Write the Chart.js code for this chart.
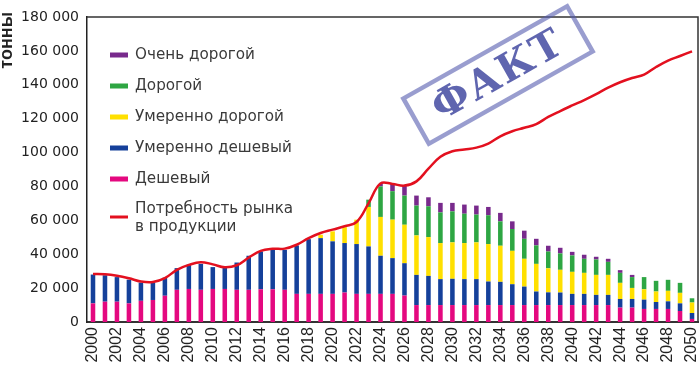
<!DOCTYPE html>
<html lang="ru">
<head>
<meta charset="utf-8">
<title>Потребность рынка в продукции</title>
<script src="https://cdn.jsdelivr.net/npm/chart.js@4.4.1/dist/chart.umd.min.js"></script>
<style>
  html, body { margin: 0; padding: 0; background: #fff; }
  #chart { display: block; }
</style>
</head>
<body>
<canvas id="chart" width="700" height="367"></canvas>
<script>
// --- data (tonnes) ---
const years = ['2000','2001','2002','2003','2004','2005','2006','2007','2008','2009',
  '2010','2011','2012','2013','2014','2015','2016','2017','2018','2019',
  '2020','2021','2022','2023','2024','2025','2026','2027','2028','2029',
  '2030','2031','2032','2033','2034','2035','2036','2037','2038','2039',
  '2040','2041','2042','2043','2044','2045','2046','2047','2048','2049','2050'];

const cheap = [11000,12000,12000,11000,12500,13000,15500,19000,19500,19000,
  19500,19500,19000,19000,19300,19300,19000,16600,16600,16600,
  16600,17400,16600,16600,16600,16600,15600,10000,10000,10000,
  10000,10000,10000,10000,10000,10000,10000,10000,10000,10000,
  10000,10000,10000,10000,8500,8500,7700,7700,7700,6500,1800];

const modCheap = [17000,15600,14500,14000,10800,10300,10700,12800,14300,15300,
  12900,12900,16100,20100,22300,23300,23600,28600,32300,32900,
  31000,29200,29400,28000,22500,21100,19100,17800,17200,15300,
  15500,15300,15300,13900,13700,12300,10900,8000,7500,7400,
  6600,6600,6000,6000,5100,5100,5500,4100,4500,4500,3500];

const modExpensive = [0,0,0,0,0,0,0,0,0,0,
  0,0,0,0,0,0,0,0,0,2000,
  5900,9400,14400,23300,22900,22700,22700,23300,22900,21300,
  21500,21300,21700,22100,21300,19700,16400,16300,14200,13400,
  13000,12400,11800,11800,9500,6500,6100,6200,6200,6200,6200];

const expensive = [0,0,0,0,0,0,0,0,0,0,
  0,0,0,0,0,0,0,0,0,0,
  0,0,0,4300,18000,16800,17200,17600,18200,18100,
  18300,17300,16400,17000,14400,12900,11800,10900,9900,9700,
  9700,8300,9100,7700,5900,6400,7200,6300,6500,5900,2500];

const veryExpensive = [0,0,0,0,0,0,0,0,0,0,
  0,0,0,0,0,0,0,0,0,0,
  0,0,0,0,1500,4300,5900,5900,5300,5600,
  5000,5400,5300,4900,5000,4500,4800,3900,3400,3300,
  2100,2400,1600,1800,1600,1300,0,0,0,0,0];

const demand = [28400,28200,27300,25800,23900,23600,25900,30800,33700,35300,
  34000,32300,33500,38000,42000,43200,43300,45600,49500,52500,
  54500,56500,59000,70000,81800,81500,80500,83000,90500,97500,
  100800,101800,102900,105300,109600,112600,114600,116800,121000,124500,
  127800,131000,134500,138300,141500,144000,146000,150500,154300,157000,159700];

const seriesNames = ['Дешевый', 'Умеренно дешевый', 'Умеренно дорогой', 'Дорогой', 'Очень дорогой'];
const demandName = ['Потребность рынка', 'в продукции'];
const yTicks = [0, 20000, 40000, 60000, 80000, 100000, 120000, 140000, 160000, 180000];

const colors = {
  pink: '#e4087f',
  blue: '#15409a',
  yellow: '#ffe000',
  green: '#2ea643',
  purple: '#782a8c',
  red: '#e3101f'
};
const barColors = [colors.pink, colors.blue, colors.yellow, colors.green, colors.purple];

function fmt(v) {
  return String(v).replace(/\B(?=(\d{3})+(?!\d))/g, ' ');
}

// top + right frame of the plot box
const framePlugin = {
  id: 'frame',
  afterDraw(chart) {
    const { ctx, chartArea: a } = chart;
    ctx.save();
    ctx.strokeStyle = '#333';
    ctx.lineWidth = 1.5;
    ctx.beginPath();
    ctx.moveTo(a.left, a.top);
    ctx.lineTo(a.right, a.top);
    ctx.lineTo(a.right, a.bottom);
    ctx.stroke();
    ctx.restore();
  }
};

// vertical year labels under the x axis, every second year
const yearLabelsPlugin = {
  id: 'yearLabels',
  afterDraw(chart) {
    const { ctx, scales: { x } } = chart;
    ctx.save();
    ctx.font = '16px "Liberation Sans", Arial, sans-serif';
    ctx.fillStyle = '#222';
    ctx.textAlign = 'right';
    ctx.textBaseline = 'middle';
    years.forEach((yr, i) => {
      if (i % 2) return;
      ctx.save();
      ctx.translate(x.getPixelForValue(i), x.top + 5);
      ctx.rotate(-Math.PI / 2);
      ctx.fillText(yr, 0, 0);
      ctx.restore();
    });
    ctx.restore();
  }
};

// rotated axis title at the top-left
const yTitlePlugin = {
  id: 'yTitle',
  afterDraw(chart) {
    const ctx = chart.ctx;
    ctx.save();
    ctx.translate(7, 12);
    ctx.rotate(-Math.PI / 2);
    ctx.font = 'bold 18px "Liberation Sans", Arial, sans-serif';
    ctx.fillStyle = '#222';
    ctx.textAlign = 'right';
    ctx.textBaseline = 'middle';
    ctx.fillText('тонны', 0, 0);
    ctx.restore();
  }
};

// legend inside the plot, top-left
const legendPlugin = {
  id: 'insideLegend',
  afterDraw(chart) {
    const ctx = chart.ctx;
    const x0 = 110, tx = 135;
    ctx.save();
    ctx.font = '15.2px "DejaVu Sans", sans-serif';
    ctx.textBaseline = 'middle';
    for (let i = 4; i >= 0; i--) {
      const y = 55 + (4 - i) * 31;
      ctx.fillStyle = barColors[i];
      ctx.fillRect(x0, y - 2.5, 18, 5);
      ctx.fillStyle = '#3a3a3a';
      ctx.fillText(seriesNames[i], tx, y);
    }
    ctx.strokeStyle = colors.red;
    ctx.lineWidth = 3;
    ctx.beginPath();
    ctx.moveTo(x0, 217);
    ctx.lineTo(x0 + 18, 217);
    ctx.stroke();
    ctx.fillText(demandName[0], tx, 209);
    ctx.fillText(demandName[1], tx, 227);
    ctx.restore();
  }
};

// the "ФАКТ" rubber stamp
const stampPlugin = {
  id: 'stamp',
  afterDraw(chart) {
    const ctx = chart.ctx;
    ctx.save();
    ctx.translate(498, 75);
    ctx.rotate(-29.4 * Math.PI / 180);
    ctx.strokeStyle = 'rgba(85, 92, 175, 0.6)';
    ctx.lineWidth = 4.5;
    ctx.strokeRect(-94, -26, 188, 52);
    ctx.fillStyle = 'rgba(55, 62, 155, 0.8)';
    ctx.font = 'bold 40px "DejaVu Serif", serif';
    ctx.letterSpacing = '2px';
    ctx.textAlign = 'center';
    ctx.textBaseline = 'middle';
    ctx.fillText('ФАКТ', 0, 2);
    ctx.restore();
  }
};

const barSeries = [cheap, modCheap, modExpensive, expensive, veryExpensive];

const datasets = barSeries.map((data, i) => ({
  type: 'bar',
  label: seriesNames[i],
  data,
  backgroundColor: barColors[i],
  categoryPercentage: 1,
  barPercentage: 0.38,
  stack: 'supply',
  order: 1
}));

datasets.push({
  type: 'line',
  label: demandName.join(' '),
  data: demand,
  borderColor: colors.red,
  borderWidth: 2.5,
  pointRadius: 0,
  tension: 0.4,
  fill: false,
  stack: 'demand',
  order: 0
});

new Chart(document.getElementById('chart'), {
  type: 'bar',
  data: { labels: years, datasets },
  options: {
    responsive: false,
    animation: false,
    devicePixelRatio: 1,
    layout: { padding: { top: 17, right: 2, left: 0, bottom: 0 } },
    plugins: {
      legend: { display: false },
      tooltip: { enabled: false }
    },
    scales: {
      x: {
        stacked: true,
        offset: true,
        grid: { display: false, drawTicks: false },
        border: { display: true, color: '#333', width: 2 },
        ticks: { display: false },
        afterFit: s => { s.height = 45; }
      },
      y: {
        stacked: true,
        min: 0,
        max: 180000,
        grid: { display: false, drawTicks: false },
        border: { display: true, color: '#222', width: 1.5 },
        afterBuildTicks: s => { s.ticks = yTicks.map(v => ({ value: v })); },
        ticks: {
          padding: 8,
          color: '#222',
          font: { family: '"DejaVu Sans", sans-serif', size: 14 },
          callback: v => fmt(v)
        },
        afterFit: s => { s.width = 87; }
      }
    }
  },
  plugins: [framePlugin, yearLabelsPlugin, yTitlePlugin, legendPlugin, stampPlugin]
});
</script>
</body>
</html>
